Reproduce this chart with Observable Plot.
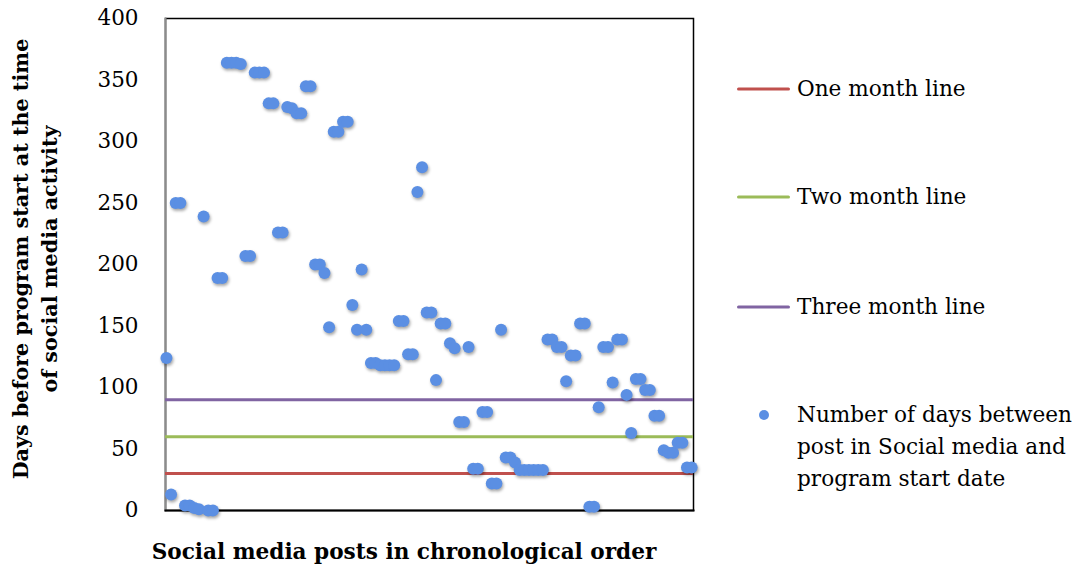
<!DOCTYPE html>
<html><head><meta charset="utf-8">
<script src="https://cdn.jsdelivr.net/npm/d3@7"></script>
<script src="https://cdn.jsdelivr.net/npm/@observablehq/plot@0.6"></script>
<style>
html,body{margin:0;padding:0;background:#fff;}
#wrap{position:relative;width:1085px;height:569px;font-family:"DejaVu Serif",serif;color:#000;overflow:hidden;}
#chart{position:absolute;left:0;top:0;}
#chart svg g[aria-label="dot"]{filter:drop-shadow(1px 2px 1.5px rgba(0,0,0,0.35));}
.ytitle{position:absolute;left:36px;top:259px;transform:translate(-50%,-50%) rotate(-90deg);font-weight:bold;font-size:20.7px;line-height:29px;text-align:center;white-space:nowrap;}
.xtitle{position:absolute;left:404px;top:551px;transform:translate(-50%,-50%);font-weight:bold;font-size:21.6px;white-space:nowrap;}
.legline{position:absolute;left:737px;width:53px;height:3px;border-radius:1.5px;transform:translateY(-50%);}
.legtext{position:absolute;left:797px;font-size:21.6px;transform:translateY(-50%);white-space:nowrap;line-height:1;}
.legdot{position:absolute;left:759px;width:10px;height:10px;border-radius:50%;transform:translateY(-50%);}
</style>
</head><body>
<div id="wrap"><div id="chart"></div></div>
<script>
// Days before program start for each social media post, in chronological order
const daysBefore = [124,13,250,250,4,4,2,1,239,0,0,189,189,364,364,364,363,207,207,356,356,356,331,331,226,226,328,327,323,323,345,345,200,200,193,149,308,308,316,316,167,147,196,147,120,120,118,118,118,118,154,154,127,127,259,279,161,161,106,152,152,136,132,72,72,133,34,34,80,80,22,22,147,43,43,39,33,33,33,33,33,33,139,139,133,133,105,126,126,152,152,3,3,84,133,133,104,139,139,94,63,107,107,98,98,77,77,49,47,47,55,55,35,35];
const postOrder = daysBefore.map((_, i) => i + 1);

const lineNames = ["One month line", "Two month line", "Three month line"];
const lineDays = [30, 60, 90];
const lineColors = ["#C0504D", "#9BBB59", "#8064A2"];

const seriesName = ["Number of days between", "post in Social media and", "program start date"];
const seriesColor = "#5B8FE3";

const yTicks = [0, 50, 100, 150, 200, 250, 300, 350, 400];
const yTitle = ["Days before program start at the time", "of social media activity"];
const xTitle = "Social media posts in chronological order";

const posts = postOrder.map((p, i) => ({post: p, days: daysBefore[i]}));
const thresholds = lineDays.map((d, i) => ({name: lineNames[i], days: d, color: lineColors[i]}));

const chart = Plot.plot({
  width: 720,
  height: 569,
  marginLeft: 165,
  marginRight: 27,
  marginTop: 18,
  marginBottom: 59,
  style: {fontFamily: "DejaVu Serif, serif", fontSize: "21.5px", color: "#000", background: "transparent"},
  x: {domain: [0.8, 114.4], axis: null},
  y: {domain: [0, 400], ticks: yTicks, tickSize: 0, tickPadding: 27, label: null},
  marks: [
    Plot.frame({stroke: "#000", strokeWidth: 1.5}),
    Plot.frame({anchor: "left", stroke: "#8c8c8c", strokeWidth: 2}),
    Plot.frame({anchor: "bottom", stroke: "#000", strokeWidth: 2}),
    Plot.ruleY(thresholds, {y: "days", stroke: "color", strokeWidth: 3}),
    Plot.dot(posts, {x: "post", y: "days", r: 6, fill: seriesColor, stroke: "none"})
  ]
});
document.getElementById("chart").appendChild(chart);

const wrap = document.getElementById("wrap");
const yt = document.createElement("div");
yt.className = "ytitle";
yt.innerHTML = yTitle.join("<br>");
wrap.appendChild(yt);
const xt = document.createElement("div");
xt.className = "xtitle";
xt.textContent = xTitle;
wrap.appendChild(xt);

const legY = [89, 197, 307];
thresholds.forEach((t, i) => {
  const l = document.createElement("div");
  l.className = "legline";
  l.style.top = legY[i] + "px";
  l.style.background = t.color;
  wrap.appendChild(l);
  const tx = document.createElement("div");
  tx.className = "legtext";
  tx.style.top = legY[i] + "px";
  tx.textContent = t.name;
  wrap.appendChild(tx);
});
const dot = document.createElement("div");
dot.className = "legdot";
dot.style.top = "415px";
dot.style.background = seriesColor;
wrap.appendChild(dot);
const serY = [415, 447, 479];
seriesName.forEach((s, i) => {
  const tx = document.createElement("div");
  tx.className = "legtext";
  tx.style.top = serY[i] + "px";
  tx.textContent = s;
  wrap.appendChild(tx);
});
</script>
</body></html>
